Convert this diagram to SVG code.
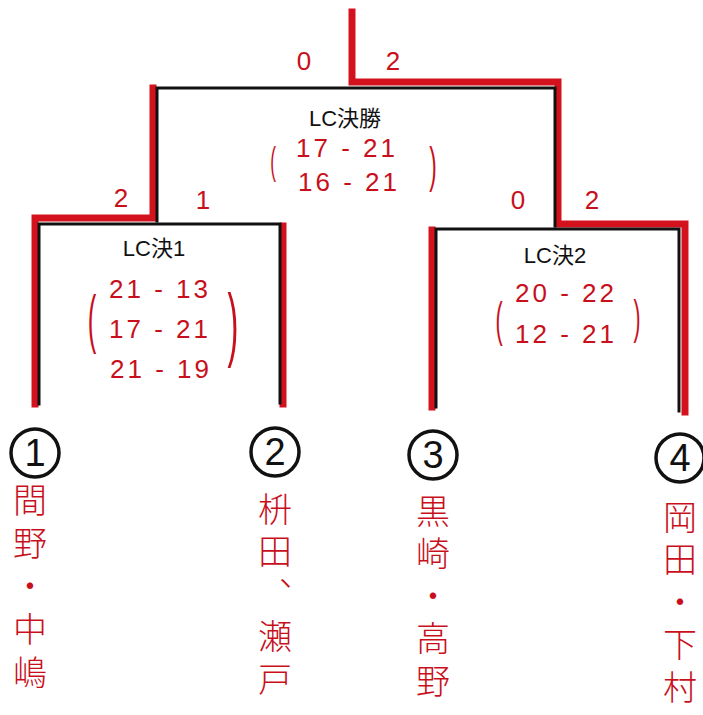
<svg xmlns="http://www.w3.org/2000/svg" width="703" height="715" viewBox="0 0 703 715">
<style>
.red{fill:none;stroke:#d4121e;stroke-width:7;stroke-linejoin:miter;stroke-linecap:square}
.blk{fill:none;stroke:#111;stroke-width:3;stroke-linecap:square}
.title{font-family:"Liberation Sans","Noto Sans CJK JP",sans-serif;font-size:22px;fill:#111;text-anchor:middle}
.score{font-family:"Liberation Sans",sans-serif;font-size:26px;fill:#c8101c;text-anchor:middle;letter-spacing:3px}
.paren{font-family:"Liberation Sans",sans-serif;fill:#c8101c;text-anchor:middle}
.set{font-family:"Liberation Sans",sans-serif;font-size:26px;fill:#c8101c;text-anchor:middle}
.name{font-family:"Noto Sans CJK JP",sans-serif;font-size:34px;font-weight:300;fill:#c8101c;writing-mode:vertical-rl;text-orientation:upright}
.num{font-family:"Liberation Sans",sans-serif;font-size:38px;fill:#111;text-anchor:middle}
.circ{fill:none;stroke:#111;stroke-width:3.5}
</style>
<rect width="703" height="715" fill="#fff"/>
<g id="connectors">
<path class="red" d="M352,12 V82 H558 V224 H685 V412"/>
<path class="red" d="M153,88 V218 H35 V404"/>
<path class="red" d="M283,226 V404"/>
<path class="red" d="M432,230 V407"/>
<path class="blk" d="M157,221 V88 H555 V226"/>
<path class="blk" d="M39,404 V224 H280 V403"/>
<path class="blk" d="M436,407 V229 H679 V411"/>
</g>
<g id="set-scores">
<text class="set" x="304" y="70">0</text>
<text class="set" x="393" y="70">2</text>
<text class="set" x="121" y="207">2</text>
<text class="set" x="203" y="209">1</text>
<text class="set" x="518" y="209">0</text>
<text class="set" x="592" y="209">2</text>
</g>
<g id="final">
<text class="title" x="345" y="126">LC決勝</text>
<text class="score" x="347" y="157">17 - 21</text>
<text class="score" x="349" y="191">16 - 21</text>
<text class="paren" transform="translate(273,174) scale(0.45,1)" font-size="38">(</text>
<text class="paren" transform="translate(433,182) scale(0.45,1)" font-size="50">)</text>
</g>
<g id="semi1">
<text class="title" x="154" y="256">LC決1</text>
<text class="score" x="160" y="298">21 - 13</text>
<text class="score" x="160" y="338">17 - 21</text>
<text class="score" x="161" y="378">21 - 19</text>
<text class="paren" transform="translate(92,341) scale(0.4,1)" font-size="64">(</text>
<text class="paren" transform="translate(233,351) scale(0.4,1)" font-size="82">)</text>
</g>
<g id="semi2">
<text class="title" x="555" y="263">LC決2</text>
<text class="score" x="566" y="302">20 - 22</text>
<text class="score" x="566" y="343">12 - 21</text>
<text class="paren" transform="translate(499,336) scale(0.45,1)" font-size="48">(</text>
<text class="paren" transform="translate(637,333) scale(0.45,1)" font-size="47">)</text>
</g>
<g id="player1">
<circle class="circ" cx="35" cy="453" r="24"/>
<text class="num" x="35" y="466">1</text>
<text class="name" x="30" y="483" letter-spacing="9">間野・中嶋</text>
</g>
<g id="player2">
<circle class="circ" cx="275" cy="452" r="24"/>
<text class="num" x="275" y="465">2</text>
<text class="name" x="275" y="492" letter-spacing="8.5">枡田、瀬戸</text>
</g>
<g id="player3">
<circle class="circ" cx="433" cy="455" r="24"/>
<text class="num" x="433" y="468">3</text>
<text class="name" x="433" y="494" letter-spacing="8.5">黒崎・高野</text>
</g>
<g id="player4">
<circle class="circ" cx="680" cy="458" r="24"/>
<text class="num" x="680" y="471">4</text>
<text class="name" x="680" y="500" letter-spacing="8.5">岡田・下村</text>
</g>
</svg>
